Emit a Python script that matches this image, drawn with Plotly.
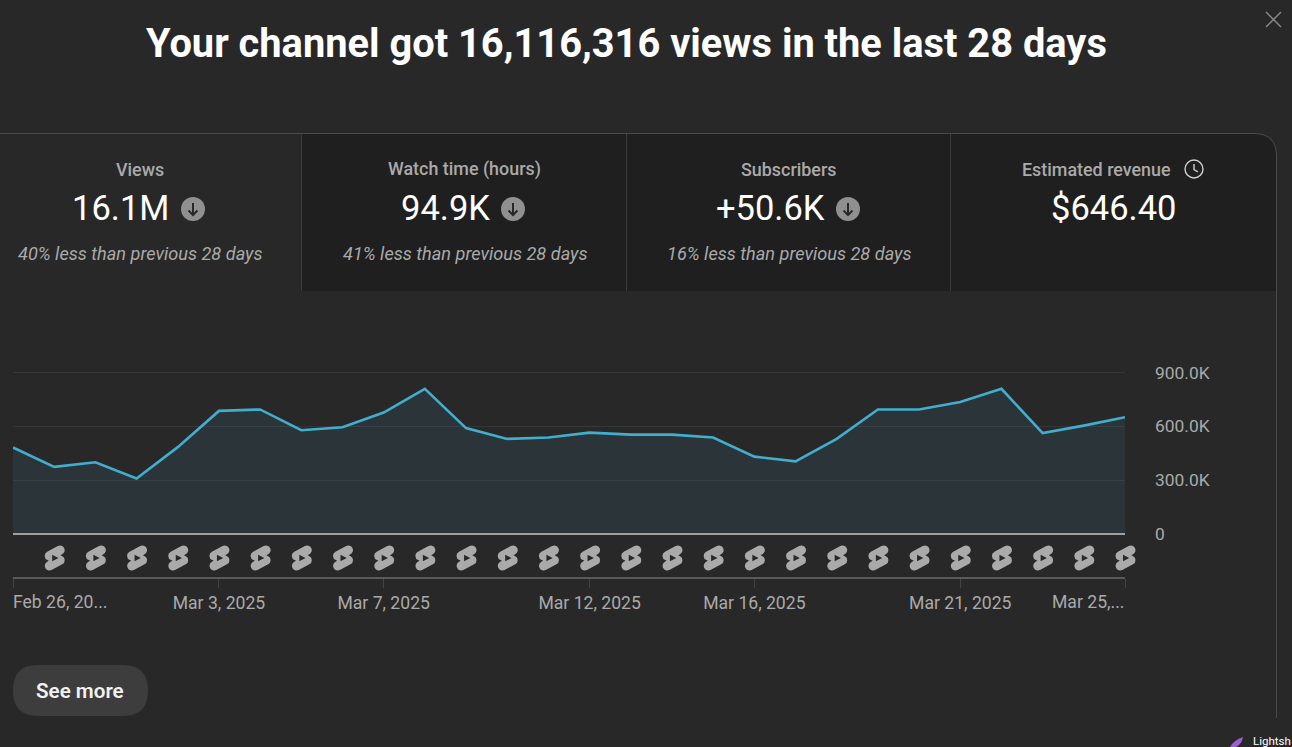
import base64
import plotly.graph_objects as go

W = 1292
H = 747

dates = [
    '2025-02-26', '2025-02-27', '2025-02-28', '2025-03-01', '2025-03-02', '2025-03-03', '2025-03-04',
    '2025-03-05', '2025-03-06', '2025-03-07', '2025-03-08', '2025-03-09', '2025-03-10', '2025-03-11',
    '2025-03-12', '2025-03-13', '2025-03-14', '2025-03-15', '2025-03-16', '2025-03-17', '2025-03-18',
    '2025-03-19', '2025-03-20', '2025-03-21', '2025-03-22', '2025-03-23', '2025-03-24', '2025-03-25',
]
views = [
    482000, 374000, 400000, 309000, 484000, 686000, 694000,
    578000, 595000, 677000, 809000, 590000, 530000, 538000,
    565000, 554000, 554000, 538000, 431000, 405000, 530000,
    694000, 694000, 735000, 809000, 562000, 604000, 651000,
]
y_ticks = [0, 300000, 600000, 900000]
y_labels = ['0', '300.0K', '600.0K', '900.0K']
x_ticks = ['2025-02-26', '2025-03-03', '2025-03-07', '2025-03-12', '2025-03-16', '2025-03-21', '2025-03-25']
x_labels = ['', 'Mar 3, 2025', 'Mar 7, 2025', 'Mar 12, 2025', 'Mar 16, 2025', 'Mar 21, 2025', '']
shorts_dates = dates[1:]

title = 'Your channel got 16,116,316 views in the last 28 days'
card_names = ['Views', 'Watch time (hours)', 'Subscribers', 'Estimated revenue']
card_values = ['16.1M', '94.9K', '+50.6K', '$646.40']
card_notes = ['40% less than previous 28 days', '41% less than previous 28 days', '16% less than previous 28 days', '']

BG = '#282828'
DARK = '#1f1f1f'
BORDER = '#4a4a4a'
GREY = '#aaaaaa'


def fx(px):
    return px / W


def fy(py):
    return 1 - py / H


def px_shape(kind, x0, y0, x1, y1, **kw):
    return dict(type=kind, xref='paper', yref='paper', x0=fx(x0), y0=fy(y0), x1=fx(x1), y1=fy(y1), **kw)


def px_path(points, closed=False, **kw):
    # points are page pixels, Q keeps its control point in the list
    d = ''
    for cmd, pts in points:
        d += cmd + ' '.join(f'{fx(x):.5f} {fy(y):.5f}' for x, y in pts) + ' '
    if closed:
        d += 'Z'
    return dict(type='path', xref='paper', yref='paper', path=d, **kw)


def label(text, x, y, size, color='#ffffff', anchor='center', **font):
    return dict(text=text, x=fx(x), y=fy(y), xref='paper', yref='paper', showarrow=False, xanchor=anchor,
                yanchor='middle', align='center', font=dict(family='Roboto', size=size, color=color, **font))


fig = go.Figure()
fig.add_trace(go.Scatter(
    x=dates, y=views, mode='lines', fill='tozeroy',
    fillcolor='rgba(80,170,215,0.1)',
    line=dict(color='#41aece', width=2.6),
    hoverinfo='skip', showlegend=False,
))
# invisible wider axis, the last shorts icon hangs past the end of the plot and would get clipped
fig.add_trace(go.Scatter(
    x=shorts_dates, y=[0] * len(shorts_dates), mode='none', xaxis='x2', yaxis='y2',
    hoverinfo='skip', showlegend=False,
))

shapes = [
    # dark tabs
    px_path([('M', [(302, 134)]), ('L', [(1254, 134)]), ('Q', [(1276, 134), (1276, 156)]),
             ('L', [(1276, 291)]), ('L', [(302, 291)])],
            closed=True, fillcolor=DARK, line=dict(width=0), layer='below'),
    # card outline
    px_path([('M', [(0, 133.5)]), ('L', [(1254, 133.5)]), ('Q', [(1276.5, 133.5), (1276.5, 156)]), ('L', [(1276.5, 718)])],
            line=dict(color=BORDER, width=1), layer='below'),
]
for x in [301.5, 626.5, 950.5]:
    shapes.append(px_shape('line', x, 134, x, 291, line=dict(color='#3c3c3c', width=1), layer='below'))

# down arrows next to the values
for cx in [193, 513, 848]:
    shapes.append(px_shape('circle', cx - 12, 197, cx + 12, 221, fillcolor='#909090', line=dict(width=0)))
    shapes.append(px_path([('M', [(cx, 203)]), ('L', [(cx, 215)])], line=dict(color='#282828', width=2)))
    shapes.append(px_path([('M', [(cx - 4.5, 210.5)]), ('L', [(cx, 215)]), ('L', [(cx + 4.5, 210.5)])],
                          line=dict(color='#282828', width=2)))

# clock icon
shapes.append(px_shape('circle', 1185, 160, 1203, 178, line=dict(color='#d0d0d0', width=1.4)))
shapes.append(px_path([('M', [(1194, 164)]), ('L', [(1194, 169.5)]), ('L', [(1198, 172)])],
                      line=dict(color='#d0d0d0', width=1.4)))

# close button
shapes.append(px_shape('line', 1266, 12, 1281, 27, line=dict(color='#8a8a8a', width=1.5)))
shapes.append(px_shape('line', 1281, 12, 1266, 27, line=dict(color='#8a8a8a', width=1.5)))

# see more pill
shapes.append(px_path([('M', [(38, 665)]), ('L', [(123, 665)]), ('Q', [(148, 665), (148, 690.5)]),
                       ('Q', [(148, 716), (123, 716)]), ('L', [(38, 716)]), ('Q', [(13, 716), (13, 690.5)]),
                       ('Q', [(13, 665), (38, 665)])], closed=True, fillcolor='#3d3d3d', line=dict(width=0), layer='below'))

# lightshot feather
shapes.append(px_path([('M', [(1230, 747)]), ('Q', [(1234, 740), (1243, 737)]), ('Q', [(1242, 744), (1236, 747)])],
                      closed=True, fillcolor='#9b5fd0', line=dict(width=0)))

annotations = [
    label(title, 626.5, 44, 39.8, weight=700),
    label(card_names[0], 139.5, 169, 17.9, GREY, weight=500),
    label(card_names[1], 464.5, 169, 17.9, GREY, weight=500),
    label(card_names[2], 788.5, 169, 17.9, GREY, weight=500),
    label(card_names[3], 1096.5, 169, 17.9, GREY, weight=500),
    label(card_values[0], 120.5, 208, 34.5),
    label(card_values[1], 445.5, 208, 34.5),
    label(card_values[2], 770, 208, 34.5),
    label(card_values[3], 1113.5, 208, 34.5),
    label(card_notes[0], 139.5, 253, 18.15, GREY, style='italic'),
    label(card_notes[1], 464.5, 253, 18.15, GREY, style='italic'),
    label(card_notes[2], 789, 253, 18.15, GREY, style='italic'),
    label('Feb 26, 20...', 11, 602, 17.6, GREY, anchor='left'),
    label('Mar 25,...', 1126, 602, 17.6, GREY, anchor='right'),
    label('See more', 80, 690.5, 20.6, '#f1f1f1', weight=600),
    label('Lightsh', 1251, 741, 11.5, anchor='left'),
]

# shorts markers under the plot, one per upload day
shorts_svg = (
    '<svg xmlns="http://www.w3.org/2000/svg" viewBox="0 0 24 24">'
    '<path fill="#aaaaaa" d="M17.77 10.32l-1.2-.5L18 9.06a3.74 3.74 0 00-3.5-6.62L6 6.94a3.74 3.74 0 00.23 6.74'
    'l1.2.49L6 14.93a3.75 3.75 0 003.5 6.63l8.5-4.5a3.74 3.74 0 00-.23-6.74z"/>'
    '<path fill="#282828" d="M10 14.65l5-2.65-5-2.65z"/></svg>'
)
shorts_uri = 'data:image/svg+xml;base64,' + base64.b64encode(shorts_svg.encode()).decode()
images = [
    dict(source=shorts_uri, xref='x2', yref='paper', x=d, y=fy(558), sizex=0.73 * 86400000, sizey=30 / H,
         xanchor='center', yanchor='middle', sizing='stretch', layer='above')
    for d in shorts_dates
]

fig.update_layout(
    width=W, height=H,
    margin=dict(l=0, r=0, t=0, b=0, autoexpand=False),
    paper_bgcolor=BG, plot_bgcolor='rgba(0,0,0,0)',
    showlegend=False,
    shapes=shapes, annotations=annotations, images=images,
    xaxis=dict(
        type='date',
        domain=[fx(13), fx(1125)],
        range=[dates[0], dates[-1]],
        anchor='free', position=fy(578),
        tickmode='array', tickvals=x_ticks, ticktext=x_labels,
        ticks='outside', ticklen=9, tickcolor='#444444', tickwidth=1,
        tickfont=dict(family='Roboto', size=17.6, color=GREY),
        showgrid=False, showline=True, linecolor='#5a5a5a', linewidth=1.5,
        zeroline=False, fixedrange=True,
    ),
    # range runs a little past 900K so plotly keeps the top gridline
    yaxis=dict(
        domain=[fy(534), fy(370.7)],
        range=[0, 910000],
        side='right', anchor='x',
        tickmode='array', tickvals=y_ticks, ticktext=y_labels,
        ticks='', ticklabelstandoff=29,
        tickfont=dict(family='Roboto', size=17.4, color=GREY),
        showgrid=True, gridcolor='#363636', gridwidth=1,
        zeroline=True, zerolinecolor='#a0a0a0', zerolinewidth=1.5,
        showline=False, fixedrange=True,
    ),
    xaxis2=dict(
        type='date', visible=False, anchor='y2', fixedrange=True,
        domain=[fx(13.5), fx(1125.5 + 1112 / 27)],
        range=[dates[0], '2025-03-26'],
    ),
    yaxis2=dict(visible=False, anchor='x2', domain=[fy(534), fy(370.7)], fixedrange=True),
)

fig.write_html("out.html", config=dict(displayModeBar=False),
               post_script="document.body.style.margin='0';document.body.style.overflow='hidden';")
